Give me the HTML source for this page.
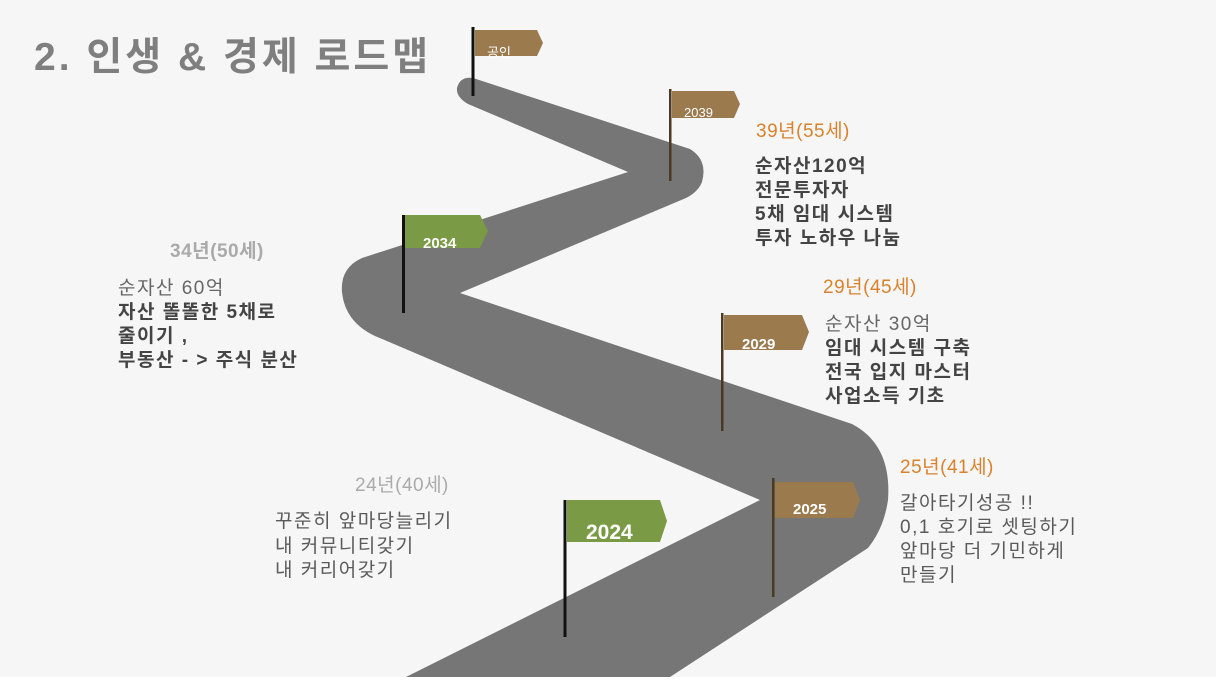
<!DOCTYPE html>
<html><head><meta charset="utf-8"><style>
html,body{margin:0;padding:0;background:#f6f6f6;}
svg{display:block;}
text{font-family:"Liberation Sans","Noto Sans CJK KR",sans-serif;}
</style></head><body>
<svg width="1216" height="684" viewBox="0 0 1216 684" xmlns="http://www.w3.org/2000/svg">
<rect width="1216" height="684" fill="#f6f6f6"/>
<rect y="677" width="1216" height="7" fill="#ffffff"/>
<!-- road -->
<path d="M473,78 L690,149 Q708,160 702,182 Q698,192 686,198 L460,293 L852,424 Q892,445 888,500 Q884,528 868,548 L670,677 L406,677 L760,500 L375,336 Q345,322 342,292 Q340,268 362,258 L628,172 L468,104 Q456,97 457,88 Q460,76 473,78 Z" fill="#767676"/>
<!-- title -->
<text x="34" y="70" font-size="39" font-weight="bold" fill="#7f7f7f" letter-spacing="3">2. 인생 &amp; 경제 로드맵</text>
<!-- flags -->
<g>
<rect x="471.5" y="27" width="3" height="69" fill="#111"/>
<path d="M475,30 L537,30 L543,43 L537,56 L475,56 Z" fill="#9b7a4e"/>
<text x="487" y="57" font-size="13" fill="#fff">공인</text>

<rect x="669" y="89" width="2.5" height="92" fill="#4a3a22"/>
<path d="M672,91 L734,91 L740,104 L734,118 L672,118 Z" fill="#9b7a4e"/>
<text x="684" y="117" font-size="13" fill="#fff">2039</text>

<rect x="402" y="215" width="3" height="98" fill="#111"/>
<path d="M405,215 L480,215 L488,231 L480,248 L405,248 Z" fill="#7a9a45"/>
<text x="423" y="248" font-size="15" font-weight="bold" fill="#fff">2034</text>

<rect x="721" y="313" width="2.5" height="118" fill="#4a3a22"/>
<path d="M724,315 L802,315 L809,332 L802,350 L724,350 Z" fill="#9b7a4e"/>
<text x="742" y="349" font-size="15" font-weight="bold" fill="#fff">2029</text>

<rect x="772" y="478" width="2.5" height="119" fill="#4a3a22"/>
<path d="M775,482 L853,482 L860,500 L853,518 L775,518 Z" fill="#9b7a4e"/>
<text x="793" y="514" font-size="15" font-weight="bold" fill="#fff">2025</text>

<rect x="563.5" y="500" width="3" height="137" fill="#111"/>
<path d="M567,500 L660,500 L667,521 L660,542 L567,542 Z" fill="#7a9a45"/>
<text x="586" y="539" font-size="21" font-weight="bold" fill="#fff">2024</text>
</g>
<!-- texts -->
<g font-size="19" letter-spacing="1.5">
<text x="756" y="137" fill="#d9822b" letter-spacing="0.5">39년(55세)</text>
<g fill="#444" font-weight="bold">
<text x="755" y="172">순자산120억</text>
<text x="755" y="196">전문투자자</text>
<text x="755" y="220">5채 임대 시스템</text>
<text x="755" y="244">투자 노하우 나눔</text>
</g>
<text x="170" y="257" font-weight="bold" fill="#aaaaaa" letter-spacing="0.5">34년(50세)</text>
<text x="118" y="294" fill="#666">순자산 60억</text>
<g fill="#444" font-weight="bold">
<text x="118" y="318">자산 똘똘한 5채로</text>
<text x="118" y="342">줄이기 ,</text>
<text x="118" y="366">부동산 - &gt; 주식 분산</text>
</g>
<text x="823" y="293" fill="#d9822b" letter-spacing="0.5">29년(45세)</text>
<text x="825" y="330" fill="#666">순자산 30억</text>
<g fill="#444" font-weight="bold">
<text x="825" y="354">임대 시스템 구축</text>
<text x="825" y="378">전국 입지 마스터</text>
<text x="825" y="402">사업소득 기초</text>
</g>
<text x="900" y="473" fill="#d9822b" letter-spacing="0.5">25년(41세)</text>
<g fill="#5a5a5a">
<text x="900" y="509">갈아타기성공 !!</text>
<text x="900" y="533">0,1 호기로 셋팅하기</text>
<text x="900" y="557">앞마당 더 기민하게</text>
<text x="900" y="581">만들기</text>
</g>
<text x="355" y="491" fill="#aaaaaa" letter-spacing="0.5">24년(40세)</text>
<g fill="#5a5a5a">
<text x="275" y="527">꾸준히 앞마당늘리기</text>
<text x="275" y="552">내 커뮤니티갖기</text>
<text x="275" y="576">내 커리어갖기</text>
</g>
</g>
</svg>
</body></html>
